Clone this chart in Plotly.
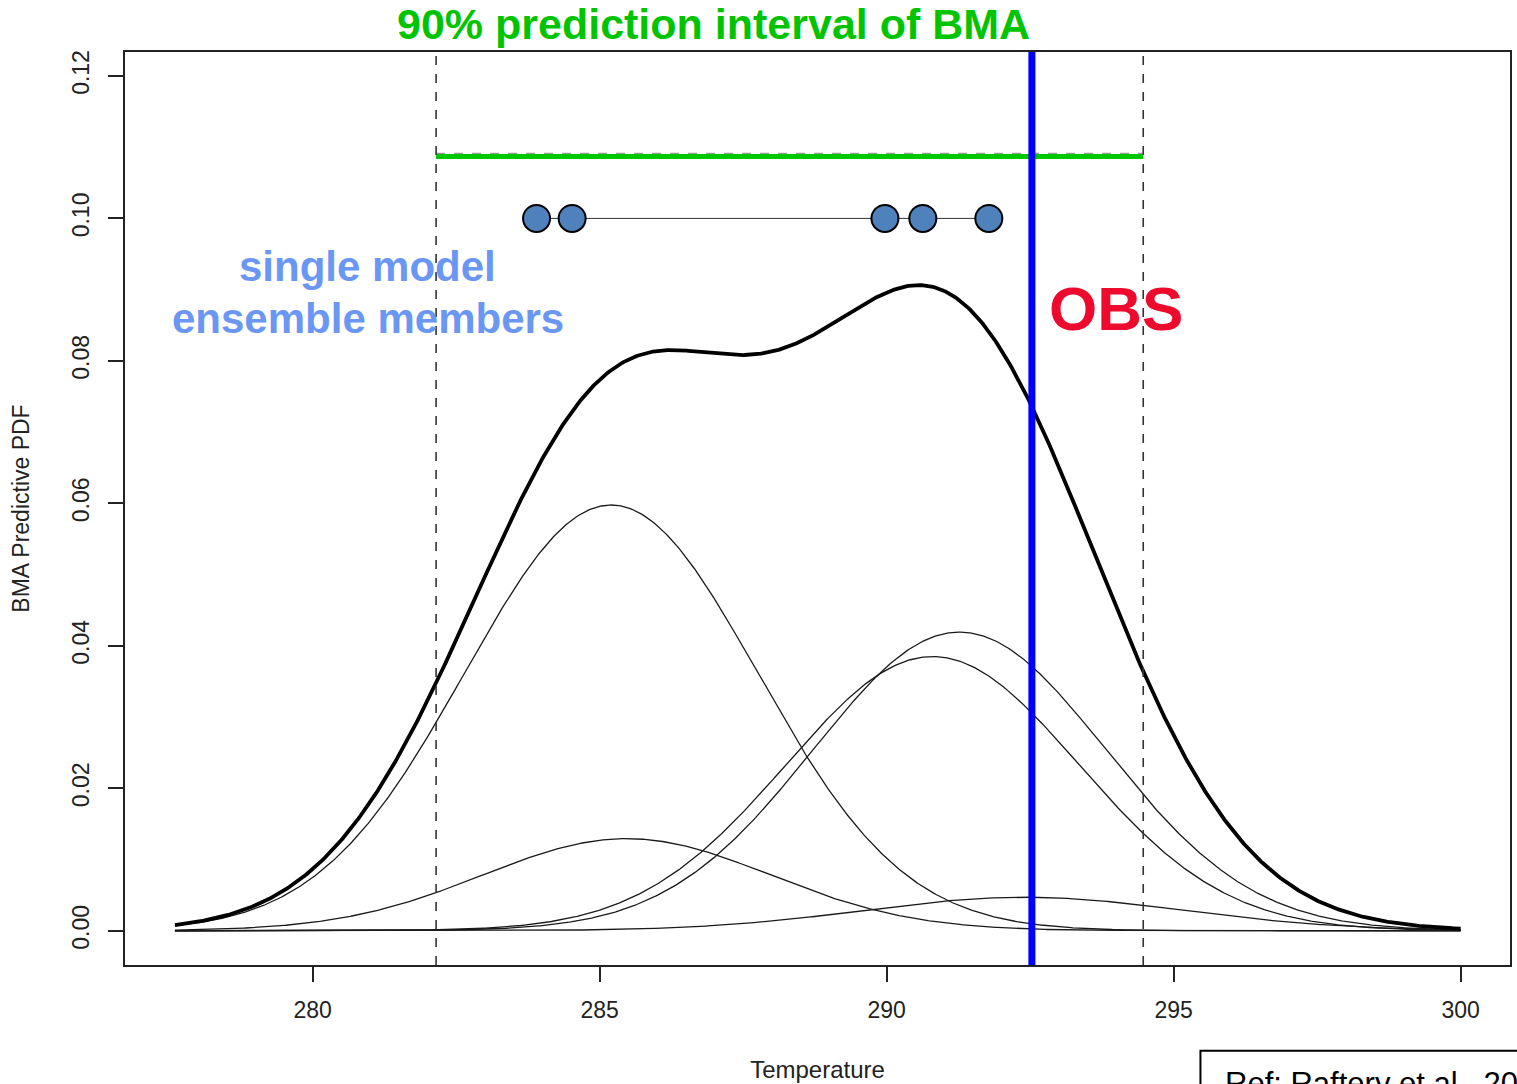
import numpy as np
import plotly.graph_objects as go

# BMA predictive mixture: one normal component per ensemble member
comp_weights = [0.382, 0.081, 0.268, 0.246, 0.033]
comp_means = [285.20, 285.47, 291.27, 290.80, 292.40]
comp_sds = [2.55, 2.50, 2.55, 2.55, 2.80]

# temperature support of the plotted densities
temp_min, temp_max = 277.6, 300.0

# raw single-model forecasts (ensemble members)
member_forecasts = [283.90, 284.52, 289.97, 290.63, 291.78]
member_level = 0.10

# 90% BMA prediction interval and verifying observation
interval_bounds = [282.15, 294.47]
interval_level = 0.1087
observation = 292.53

x_ticks = [280, 285, 290, 295, 300]
y_ticks = [0.00, 0.02, 0.04, 0.06, 0.08, 0.10, 0.12]

FONT = "Liberation Sans, Arial, Helvetica, sans-serif"

x = np.linspace(temp_min, temp_max, 800)


def normal_pdf(t, mu, sd):
    return np.exp(-0.5 * ((t - mu) / sd) ** 2) / (sd * np.sqrt(2 * np.pi))


components = [w * normal_pdf(x, m, s) for w, m, s in zip(comp_weights, comp_means, comp_sds)]
bma_pdf = np.sum(components, axis=0)

fig = go.Figure()

for comp in components:
    fig.add_trace(go.Scatter(x=x, y=comp, mode="lines",
                             line=dict(color="#1a1a1a", width=1.3),
                             hoverinfo="skip", showlegend=False))

fig.add_trace(go.Scatter(x=x, y=bma_pdf, mode="lines",
                         line=dict(color="black", width=3.8),
                         name="BMA", showlegend=False))

# interval bounds
for b in interval_bounds:
    fig.add_vline(x=b, line=dict(color="#333333", width=1.6, dash="dash"))

# dashed interval line under the green bar
fig.add_trace(go.Scatter(x=interval_bounds, y=[interval_level + 0.0004] * 2, mode="lines",
                         line=dict(color="#999999", width=1.5, dash="dash"),
                         hoverinfo="skip", showlegend=False))
fig.add_trace(go.Scatter(x=interval_bounds, y=[interval_level] * 2, mode="lines",
                         line=dict(color="#00c800", width=5),
                         hoverinfo="skip", showlegend=False))

# ensemble members
fig.add_trace(go.Scatter(x=[min(member_forecasts), max(member_forecasts)],
                         y=[member_level] * 2, mode="lines",
                         line=dict(color="#333333", width=1),
                         hoverinfo="skip", showlegend=False))
fig.add_trace(go.Scatter(x=member_forecasts, y=[member_level] * len(member_forecasts),
                         mode="markers",
                         marker=dict(size=27, color="#4f81bd",
                                     line=dict(color="black", width=2)),
                         showlegend=False))

# observation
fig.add_vline(x=observation, line=dict(color="#0000ff", width=7))

fig.add_annotation(x=0.4247, y=1.031, xref="paper", yref="paper",
                   text="<b>90% prediction interval of BMA</b>", showarrow=False,
                   font=dict(family=FONT, size=43, color="#00c400"),
                   xanchor="center", yanchor="middle")
fig.add_annotation(x=280.96, y=0.0932, xref="x", yref="y",
                   text="<b>single model</b>", showarrow=False,
                   font=dict(family=FONT, size=42, color="#6a96f4"),
                   xanchor="center", yanchor="middle")
fig.add_annotation(x=280.96, y=0.0859, xref="x", yref="y",
                   text="<b>ensemble members</b>", showarrow=False,
                   font=dict(family=FONT, size=42, color="#6a96f4"),
                   xanchor="center", yanchor="middle")
fig.add_annotation(x=294.0, y=0.0873, xref="x", yref="y",
                   text="<b>OBS</b>", showarrow=False,
                   font=dict(family=FONT, size=62, color="#ee0a2c"),
                   xanchor="center", yanchor="middle")

# reference box at the lower right
fig.add_shape(type="rect", xref="paper", yref="paper",
              x0=0.7765, x1=1.2, y0=-0.094, y1=-0.4,
              line=dict(color="black", width=2), fillcolor="white", layer="above")
fig.add_annotation(x=0.7925, y=-0.108, xref="paper", yref="paper",
                   text="Ref: Raftery et al., 2005", showarrow=False,
                   font=dict(family=FONT, size=31, color="black"),
                   xanchor="left", yanchor="top")

axis_common = dict(showline=True, linecolor="#222222", linewidth=1.8, mirror=True,
                   ticks="outside", ticklen=15, tickwidth=1.5, tickcolor="#222222",
                   showgrid=False, zeroline=False,
                   tickfont=dict(family=FONT, size=23, color="#222222"))

fig.update_xaxes(range=[276.73, 300.86], tickvals=x_ticks,
                 ticktext=[str(v) for v in x_ticks],
                 title=dict(text="Temperature", standoff=40,
                            font=dict(family=FONT, size=24, color="#222222")),
                 ticklabelstandoff=8, **axis_common)
fig.update_yaxes(range=[-0.00481, 0.12336], tickvals=y_ticks,
                 ticktext=[f"{v:.2f}" for v in y_ticks], tickangle=-90,
                 title=dict(text="BMA Predictive PDF", standoff=32,
                            font=dict(family=FONT, size=23, color="#222222")),
                 ticklabelstandoff=10, **axis_common)

fig.update_layout(width=1517, height=1084,
                  margin=dict(l=125, r=5, t=52, b=117),
                  paper_bgcolor="white", plot_bgcolor="white",
                  showlegend=False)

fig.write_html("out.html")
